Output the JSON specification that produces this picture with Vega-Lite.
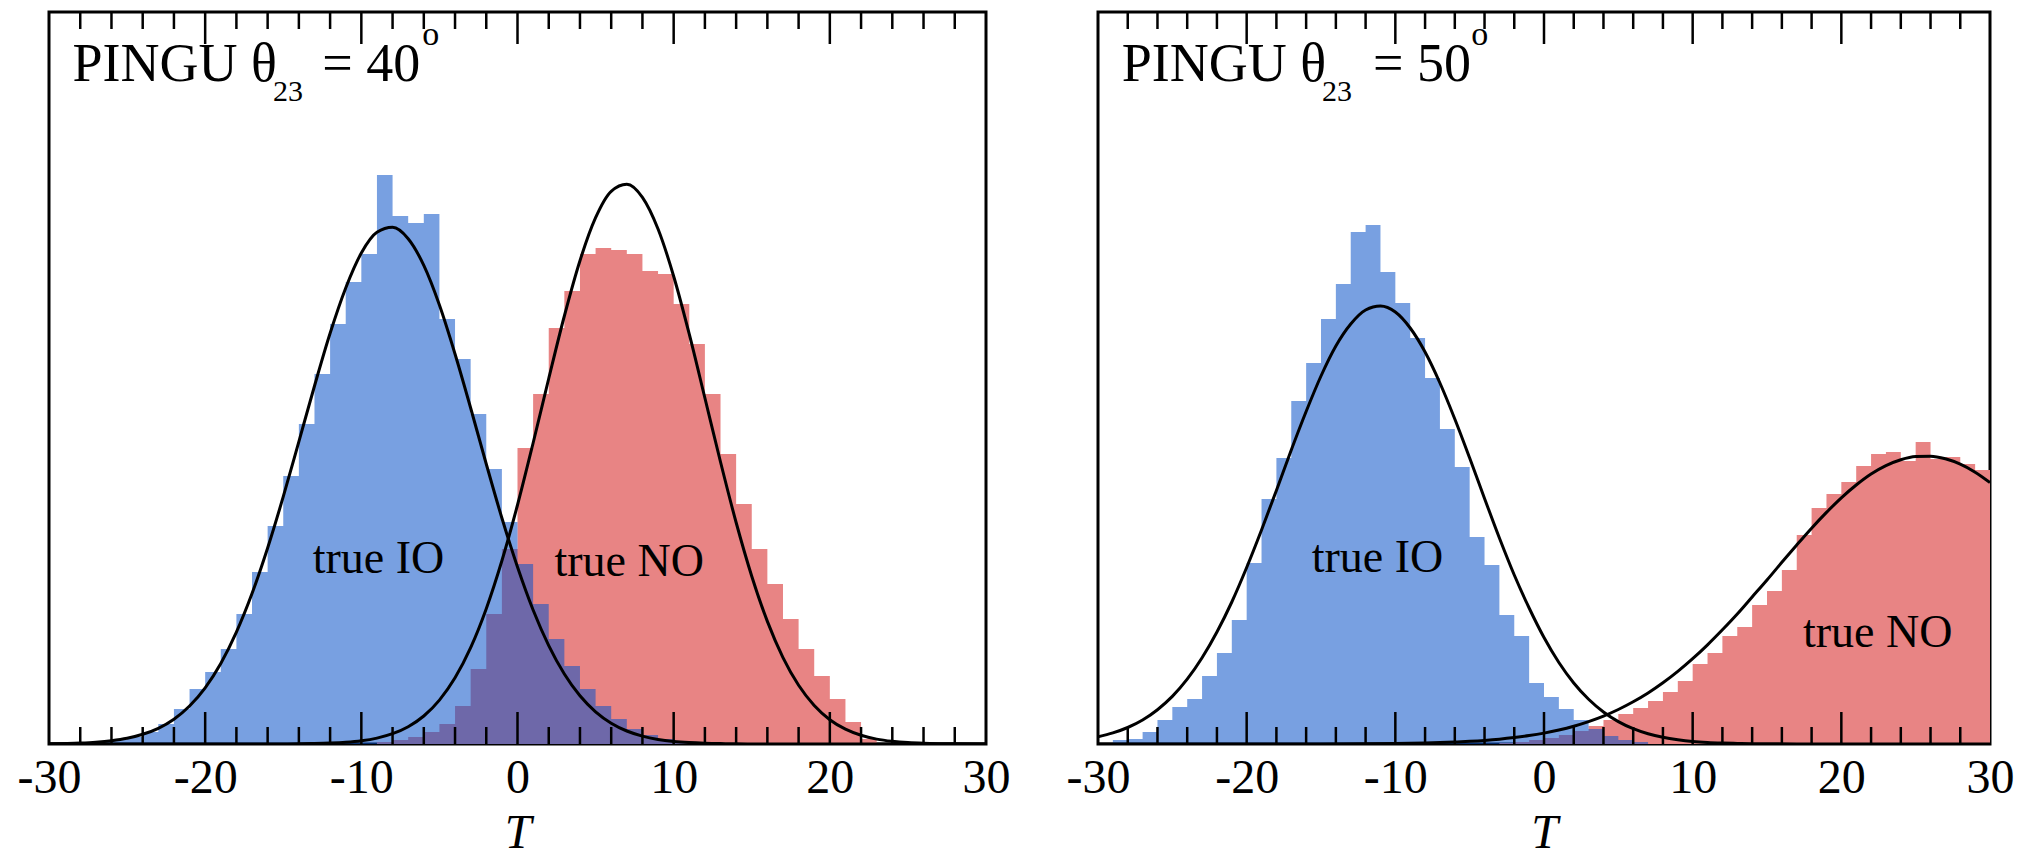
{
  "$schema": "https://vega.github.io/schema/vega-lite/v6.json",
  "background": "white",
  "padding": {"left": 15, "top": 9, "right": 5, "bottom": 0},
  "bounds": "flush",
  "spacing": 112,
  "config": {"view": {"stroke": "black", "strokeWidth": 3}, "font": "Liberation Serif"},
  "datasets": {
    "ticks": [
      {"t":-20,"y0":0,"y1":32},{"t":-10,"y0":0,"y1":32},{"t":0,"y0":0,"y1":32},{"t":10,"y0":0,"y1":32},{"t":20,"y0":0,"y1":32},
      {"t":-20,"y0":700,"y1":732},{"t":-10,"y0":700,"y1":732},{"t":0,"y0":700,"y1":732},{"t":10,"y0":700,"y1":732},{"t":20,"y0":700,"y1":732},
      {"t":-28,"y0":0,"y1":17},{"t":-26,"y0":0,"y1":17},{"t":-24,"y0":0,"y1":17},{"t":-22,"y0":0,"y1":17},{"t":-18,"y0":0,"y1":17},{"t":-16,"y0":0,"y1":17},{"t":-14,"y0":0,"y1":17},{"t":-12,"y0":0,"y1":17},{"t":-8,"y0":0,"y1":17},{"t":-6,"y0":0,"y1":17},{"t":-4,"y0":0,"y1":17},{"t":-2,"y0":0,"y1":17},{"t":2,"y0":0,"y1":17},{"t":4,"y0":0,"y1":17},{"t":6,"y0":0,"y1":17},{"t":8,"y0":0,"y1":17},{"t":12,"y0":0,"y1":17},{"t":14,"y0":0,"y1":17},{"t":16,"y0":0,"y1":17},{"t":18,"y0":0,"y1":17},{"t":22,"y0":0,"y1":17},{"t":24,"y0":0,"y1":17},{"t":26,"y0":0,"y1":17},{"t":28,"y0":0,"y1":17},
      {"t":-28,"y0":715,"y1":732},{"t":-26,"y0":715,"y1":732},{"t":-24,"y0":715,"y1":732},{"t":-22,"y0":715,"y1":732},{"t":-18,"y0":715,"y1":732},{"t":-16,"y0":715,"y1":732},{"t":-14,"y0":715,"y1":732},{"t":-12,"y0":715,"y1":732},{"t":-8,"y0":715,"y1":732},{"t":-6,"y0":715,"y1":732},{"t":-4,"y0":715,"y1":732},{"t":-2,"y0":715,"y1":732},{"t":2,"y0":715,"y1":732},{"t":4,"y0":715,"y1":732},{"t":6,"y0":715,"y1":732},{"t":8,"y0":715,"y1":732},{"t":12,"y0":715,"y1":732},{"t":14,"y0":715,"y1":732},{"t":16,"y0":715,"y1":732},{"t":18,"y0":715,"y1":732},{"t":22,"y0":715,"y1":732},{"t":24,"y0":715,"y1":732},{"t":26,"y0":715,"y1":732},{"t":28,"y0":715,"y1":732}
    ],
    "hist": [
      {"p":"40","s":"IO","t":-27,"h":2},{"p":"40","s":"IO","t":-26,"h":4},{"p":"40","s":"IO","t":-25,"h":7},{"p":"40","s":"IO","t":-24,"h":12},{"p":"40","s":"IO","t":-23,"h":20},{"p":"40","s":"IO","t":-22,"h":35},{"p":"40","s":"IO","t":-21,"h":55},{"p":"40","s":"IO","t":-20,"h":72},{"p":"40","s":"IO","t":-19,"h":95},{"p":"40","s":"IO","t":-18,"h":130},{"p":"40","s":"IO","t":-17,"h":172},{"p":"40","s":"IO","t":-16,"h":218},{"p":"40","s":"IO","t":-15,"h":268},{"p":"40","s":"IO","t":-14,"h":320},{"p":"40","s":"IO","t":-13,"h":370},{"p":"40","s":"IO","t":-12,"h":420},{"p":"40","s":"IO","t":-11,"h":462},{"p":"40","s":"IO","t":-10,"h":490},{"p":"40","s":"IO","t":-9,"h":569},{"p":"40","s":"IO","t":-8,"h":528},{"p":"40","s":"IO","t":-7,"h":521},{"p":"40","s":"IO","t":-6,"h":530},{"p":"40","s":"IO","t":-5,"h":425},{"p":"40","s":"IO","t":-4,"h":385},{"p":"40","s":"IO","t":-3,"h":330},{"p":"40","s":"IO","t":-2,"h":275},{"p":"40","s":"IO","t":-1,"h":222},{"p":"40","s":"IO","t":0,"h":180},{"p":"40","s":"IO","t":1,"h":140},{"p":"40","s":"IO","t":2,"h":105},{"p":"40","s":"IO","t":3,"h":78},{"p":"40","s":"IO","t":4,"h":55},{"p":"40","s":"IO","t":5,"h":38},{"p":"40","s":"IO","t":6,"h":25},{"p":"40","s":"IO","t":7,"h":15},{"p":"40","s":"IO","t":8,"h":9},{"p":"40","s":"IO","t":9,"h":5},{"p":"40","s":"IO","t":10,"h":2},{"p":"40","s":"IO","t":11,"h":0},
      {"p":"40","s":"NO","t":-9,"h":2},{"p":"40","s":"NO","t":-8,"h":4},{"p":"40","s":"NO","t":-7,"h":7},{"p":"40","s":"NO","t":-6,"h":12},{"p":"40","s":"NO","t":-5,"h":20},{"p":"40","s":"NO","t":-4,"h":38},{"p":"40","s":"NO","t":-3,"h":75},{"p":"40","s":"NO","t":-2,"h":130},{"p":"40","s":"NO","t":-1,"h":195},{"p":"40","s":"NO","t":0,"h":296},{"p":"40","s":"NO","t":1,"h":350},{"p":"40","s":"NO","t":2,"h":416},{"p":"40","s":"NO","t":3,"h":453},{"p":"40","s":"NO","t":4,"h":490},{"p":"40","s":"NO","t":5,"h":496},{"p":"40","s":"NO","t":6,"h":494},{"p":"40","s":"NO","t":7,"h":490},{"p":"40","s":"NO","t":8,"h":473},{"p":"40","s":"NO","t":9,"h":470},{"p":"40","s":"NO","t":10,"h":440},{"p":"40","s":"NO","t":11,"h":400},{"p":"40","s":"NO","t":12,"h":350},{"p":"40","s":"NO","t":13,"h":290},{"p":"40","s":"NO","t":14,"h":240},{"p":"40","s":"NO","t":15,"h":195},{"p":"40","s":"NO","t":16,"h":160},{"p":"40","s":"NO","t":17,"h":125},{"p":"40","s":"NO","t":18,"h":95},{"p":"40","s":"NO","t":19,"h":68},{"p":"40","s":"NO","t":20,"h":45},{"p":"40","s":"NO","t":21,"h":22},{"p":"40","s":"NO","t":22,"h":5},{"p":"40","s":"NO","t":23,"h":0},
      {"p":"50","s":"IO","t":-29,"h":4},{"p":"50","s":"IO","t":-28,"h":5},{"p":"50","s":"IO","t":-27,"h":12},{"p":"50","s":"IO","t":-26,"h":24},{"p":"50","s":"IO","t":-25,"h":37},{"p":"50","s":"IO","t":-24,"h":45},{"p":"50","s":"IO","t":-23,"h":68},{"p":"50","s":"IO","t":-22,"h":91},{"p":"50","s":"IO","t":-21,"h":124},{"p":"50","s":"IO","t":-20,"h":181},{"p":"50","s":"IO","t":-19,"h":245},{"p":"50","s":"IO","t":-18,"h":286},{"p":"50","s":"IO","t":-17,"h":343},{"p":"50","s":"IO","t":-16,"h":381},{"p":"50","s":"IO","t":-15,"h":425},{"p":"50","s":"IO","t":-14,"h":460},{"p":"50","s":"IO","t":-13,"h":512},{"p":"50","s":"IO","t":-12,"h":519},{"p":"50","s":"IO","t":-11,"h":472},{"p":"50","s":"IO","t":-10,"h":441},{"p":"50","s":"IO","t":-9,"h":406},{"p":"50","s":"IO","t":-8,"h":366},{"p":"50","s":"IO","t":-7,"h":315},{"p":"50","s":"IO","t":-6,"h":277},{"p":"50","s":"IO","t":-5,"h":207},{"p":"50","s":"IO","t":-4,"h":179},{"p":"50","s":"IO","t":-3,"h":129},{"p":"50","s":"IO","t":-2,"h":108},{"p":"50","s":"IO","t":-1,"h":61},{"p":"50","s":"IO","t":0,"h":47},{"p":"50","s":"IO","t":1,"h":35},{"p":"50","s":"IO","t":2,"h":24},{"p":"50","s":"IO","t":3,"h":15},{"p":"50","s":"IO","t":4,"h":8},{"p":"50","s":"IO","t":5,"h":4},{"p":"50","s":"IO","t":6,"h":2},{"p":"50","s":"IO","t":7,"h":0},
      {"p":"50","s":"NO","t":-3,"h":1},{"p":"50","s":"NO","t":-2,"h":2},{"p":"50","s":"NO","t":-1,"h":4},{"p":"50","s":"NO","t":0,"h":6},{"p":"50","s":"NO","t":1,"h":9},{"p":"50","s":"NO","t":2,"h":13},{"p":"50","s":"NO","t":3,"h":18},{"p":"50","s":"NO","t":4,"h":24},{"p":"50","s":"NO","t":5,"h":30},{"p":"50","s":"NO","t":6,"h":36},{"p":"50","s":"NO","t":7,"h":43},{"p":"50","s":"NO","t":8,"h":52},{"p":"50","s":"NO","t":9,"h":63},{"p":"50","s":"NO","t":10,"h":80},{"p":"50","s":"NO","t":11,"h":91},{"p":"50","s":"NO","t":12,"h":108},{"p":"50","s":"NO","t":13,"h":117},{"p":"50","s":"NO","t":14,"h":139},{"p":"50","s":"NO","t":15,"h":153},{"p":"50","s":"NO","t":16,"h":174},{"p":"50","s":"NO","t":17,"h":209},{"p":"50","s":"NO","t":18,"h":236},{"p":"50","s":"NO","t":19,"h":250},{"p":"50","s":"NO","t":20,"h":262},{"p":"50","s":"NO","t":21,"h":278},{"p":"50","s":"NO","t":22,"h":290},{"p":"50","s":"NO","t":23,"h":292},{"p":"50","s":"NO","t":24,"h":283},{"p":"50","s":"NO","t":25,"h":302},{"p":"50","s":"NO","t":26,"h":285},{"p":"50","s":"NO","t":27,"h":287},{"p":"50","s":"NO","t":28,"h":280},{"p":"50","s":"NO","t":29,"h":274},{"p":"50","s":"NO","t":30,"h":274}
    ],
    "curve": [
      {"p":"40","s":"IO","t":-30,"h":0.26},{"p":"40","s":"IO","t":-28,"h":1.0},{"p":"40","s":"IO","t":-27,"h":1.85},{"p":"40","s":"IO","t":-26,"h":3.3},{"p":"40","s":"IO","t":-25,"h":5.7},{"p":"40","s":"IO","t":-24,"h":9.7},{"p":"40","s":"IO","t":-23,"h":15.7},{"p":"40","s":"IO","t":-22,"h":24.8},{"p":"40","s":"IO","t":-21,"h":38},{"p":"40","s":"IO","t":-20,"h":56.2},{"p":"40","s":"IO","t":-19,"h":80.5},{"p":"40","s":"IO","t":-18,"h":111.8},{"p":"40","s":"IO","t":-17,"h":150.4},{"p":"40","s":"IO","t":-16,"h":196},{"p":"40","s":"IO","t":-15,"h":247.3},{"p":"40","s":"IO","t":-14,"h":302.4},{"p":"40","s":"IO","t":-13,"h":358},{"p":"40","s":"IO","t":-12,"h":410.7},{"p":"40","s":"IO","t":-11,"h":456},{"p":"40","s":"IO","t":-10,"h":491},{"p":"40","s":"IO","t":-9,"h":511.7},{"p":"40","s":"IO","t":-8,"h":516.7},{"p":"40","s":"IO","t":-7,"h":505.3},{"p":"40","s":"IO","t":-6,"h":478.6},{"p":"40","s":"IO","t":-5,"h":439},{"p":"40","s":"IO","t":-4,"h":390},{"p":"40","s":"IO","t":-3,"h":336},{"p":"40","s":"IO","t":-2,"h":280},{"p":"40","s":"IO","t":-1,"h":226},{"p":"40","s":"IO","t":0,"h":177},{"p":"40","s":"IO","t":1,"h":134},{"p":"40","s":"IO","t":2,"h":98.4},{"p":"40","s":"IO","t":3,"h":70},{"p":"40","s":"IO","t":4,"h":48.2},{"p":"40","s":"IO","t":5,"h":32.2},{"p":"40","s":"IO","t":6,"h":20.8},{"p":"40","s":"IO","t":7,"h":13},{"p":"40","s":"IO","t":8,"h":7.9},{"p":"40","s":"IO","t":9,"h":4.6},{"p":"40","s":"IO","t":10,"h":2.6},{"p":"40","s":"IO","t":11,"h":1.45},{"p":"40","s":"IO","t":12,"h":0.77},{"p":"40","s":"IO","t":13,"h":0.4},{"p":"40","s":"IO","t":14,"h":0.2},{"p":"40","s":"IO","t":16,"h":0.05},{"p":"40","s":"IO","t":20,"h":0},{"p":"40","s":"IO","t":30,"h":0},
      {"p":"40","s":"NO","t":-30,"h":0},{"p":"40","s":"NO","t":-20,"h":0},{"p":"40","s":"NO","t":-16,"h":0.05},{"p":"40","s":"NO","t":-14,"h":0.2},{"p":"40","s":"NO","t":-13,"h":0.45},{"p":"40","s":"NO","t":-12,"h":0.9},{"p":"40","s":"NO","t":-11,"h":1.7},{"p":"40","s":"NO","t":-10,"h":3.2},{"p":"40","s":"NO","t":-9,"h":5.9},{"p":"40","s":"NO","t":-8,"h":10.3},{"p":"40","s":"NO","t":-7,"h":17.3},{"p":"40","s":"NO","t":-6,"h":28},{"p":"40","s":"NO","t":-5,"h":43.9},{"p":"40","s":"NO","t":-4,"h":66.2},{"p":"40","s":"NO","t":-3,"h":96.3},{"p":"40","s":"NO","t":-2,"h":135.3},{"p":"40","s":"NO","t":-1,"h":183.2},{"p":"40","s":"NO","t":0,"h":239},{"p":"40","s":"NO","t":1,"h":301},{"p":"40","s":"NO","t":2,"h":365.5},{"p":"40","s":"NO","t":3,"h":428},{"p":"40","s":"NO","t":4,"h":483.3},{"p":"40","s":"NO","t":5,"h":526.3},{"p":"40","s":"NO","t":6,"h":552.7},{"p":"40","s":"NO","t":7,"h":559.8},{"p":"40","s":"NO","t":8,"h":546.7},{"p":"40","s":"NO","t":9,"h":515},{"p":"40","s":"NO","t":10,"h":467.8},{"p":"40","s":"NO","t":11,"h":409.8},{"p":"40","s":"NO","t":12,"h":346},{"p":"40","s":"NO","t":13,"h":282},{"p":"40","s":"NO","t":14,"h":221.5},{"p":"40","s":"NO","t":15,"h":167.8},{"p":"40","s":"NO","t":16,"h":122.6},{"p":"40","s":"NO","t":17,"h":86.4},{"p":"40","s":"NO","t":18,"h":58.7},{"p":"40","s":"NO","t":19,"h":38.5},{"p":"40","s":"NO","t":20,"h":24.3},{"p":"40","s":"NO","t":21,"h":14.8},{"p":"40","s":"NO","t":22,"h":8.7},{"p":"40","s":"NO","t":23,"h":4.9},{"p":"40","s":"NO","t":24,"h":2.7},{"p":"40","s":"NO","t":25,"h":1.4},{"p":"40","s":"NO","t":26,"h":0.7},{"p":"40","s":"NO","t":27,"h":0.35},{"p":"40","s":"NO","t":28,"h":0.17},{"p":"40","s":"NO","t":30,"h":0.03},
      {"p":"50","s":"IO","t":-30,"h":7.3},{"p":"50","s":"IO","t":-29,"h":11.1},{"p":"50","s":"IO","t":-28,"h":16.5},{"p":"50","s":"IO","t":-27,"h":24},{"p":"50","s":"IO","t":-26,"h":34.3},{"p":"50","s":"IO","t":-25,"h":47.6},{"p":"50","s":"IO","t":-24,"h":64.8},{"p":"50","s":"IO","t":-23,"h":86.2},{"p":"50","s":"IO","t":-22,"h":112},{"p":"50","s":"IO","t":-21,"h":142},{"p":"50","s":"IO","t":-20,"h":176.5},{"p":"50","s":"IO","t":-19,"h":214},{"p":"50","s":"IO","t":-18,"h":253.6},{"p":"50","s":"IO","t":-17,"h":294},{"p":"50","s":"IO","t":-16,"h":332.5},{"p":"50","s":"IO","t":-15,"h":368},{"p":"50","s":"IO","t":-14,"h":398},{"p":"50","s":"IO","t":-13,"h":420},{"p":"50","s":"IO","t":-12,"h":434},{"p":"50","s":"IO","t":-11,"h":438},{"p":"50","s":"IO","t":-10,"h":432},{"p":"50","s":"IO","t":-9,"h":416},{"p":"50","s":"IO","t":-8,"h":392},{"p":"50","s":"IO","t":-7,"h":361},{"p":"50","s":"IO","t":-6,"h":325},{"p":"50","s":"IO","t":-5,"h":286},{"p":"50","s":"IO","t":-4,"h":245.6},{"p":"50","s":"IO","t":-3,"h":206},{"p":"50","s":"IO","t":-2,"h":169},{"p":"50","s":"IO","t":-1,"h":136},{"p":"50","s":"IO","t":0,"h":106.5},{"p":"50","s":"IO","t":1,"h":81.5},{"p":"50","s":"IO","t":2,"h":61},{"p":"50","s":"IO","t":3,"h":44.7},{"p":"50","s":"IO","t":4,"h":32},{"p":"50","s":"IO","t":5,"h":22.4},{"p":"50","s":"IO","t":6,"h":15.3},{"p":"50","s":"IO","t":7,"h":10.2},{"p":"50","s":"IO","t":8,"h":6.7},{"p":"50","s":"IO","t":9,"h":4.3},{"p":"50","s":"IO","t":10,"h":2.6},{"p":"50","s":"IO","t":11,"h":1.6},{"p":"50","s":"IO","t":12,"h":1.0},{"p":"50","s":"IO","t":13,"h":0.6},{"p":"50","s":"IO","t":14,"h":0.35},{"p":"50","s":"IO","t":15,"h":0.2},{"p":"50","s":"IO","t":17,"h":0.06},{"p":"50","s":"IO","t":20,"h":0},{"p":"50","s":"IO","t":30,"h":0},
      {"p":"50","s":"NO","t":-30,"h":0},{"p":"50","s":"NO","t":-15,"h":0.1},{"p":"50","s":"NO","t":-10,"h":0.5},{"p":"50","s":"NO","t":-8,"h":1.0},{"p":"50","s":"NO","t":-6,"h":2.0},{"p":"50","s":"NO","t":-5,"h":2.7},{"p":"50","s":"NO","t":-4,"h":3.6},{"p":"50","s":"NO","t":-3,"h":4.8},{"p":"50","s":"NO","t":-2,"h":6.4},{"p":"50","s":"NO","t":-1,"h":8.4},{"p":"50","s":"NO","t":0,"h":10.9},{"p":"50","s":"NO","t":1,"h":14},{"p":"50","s":"NO","t":2,"h":17.8},{"p":"50","s":"NO","t":3,"h":22.4},{"p":"50","s":"NO","t":4,"h":27.9},{"p":"50","s":"NO","t":5,"h":34.5},{"p":"50","s":"NO","t":6,"h":42.2},{"p":"50","s":"NO","t":7,"h":51},{"p":"50","s":"NO","t":8,"h":61.2},{"p":"50","s":"NO","t":9,"h":72.6},{"p":"50","s":"NO","t":10,"h":85.3},{"p":"50","s":"NO","t":11,"h":99.2},{"p":"50","s":"NO","t":12,"h":114.2},{"p":"50","s":"NO","t":13,"h":130},{"p":"50","s":"NO","t":14,"h":147},{"p":"50","s":"NO","t":15,"h":164},{"p":"50","s":"NO","t":16,"h":181.7},{"p":"50","s":"NO","t":17,"h":199},{"p":"50","s":"NO","t":18,"h":215.8},{"p":"50","s":"NO","t":19,"h":231.6},{"p":"50","s":"NO","t":20,"h":246.2},{"p":"50","s":"NO","t":21,"h":259},{"p":"50","s":"NO","t":22,"h":270},{"p":"50","s":"NO","t":23,"h":278.4},{"p":"50","s":"NO","t":24,"h":284.3},{"p":"50","s":"NO","t":25,"h":287.5},{"p":"50","s":"NO","t":26,"h":287.8},{"p":"50","s":"NO","t":27,"h":285.2},{"p":"50","s":"NO","t":28,"h":279.8},{"p":"50","s":"NO","t":29,"h":271.8},{"p":"50","s":"NO","t":30,"h":261.4}
    ],
    "labels": [
      {"p":"40","k":"main","t":-28.5,"h":663,"label":"PINGU θ"},
      {"p":"40","k":"sub","t":-15.66,"h":643,"label":"23"},
      {"p":"40","k":"main","t":-12.5,"h":663,"label":"= 40"},
      {"p":"40","k":"sup","t":-6.1,"h":699,"label":"o"},
      {"p":"40","k":"curve","t":-8.9,"h":171,"label":"true IO"},
      {"p":"40","k":"curve","t":7.15,"h":168,"label":"true NO"},
      {"p":"50","k":"main","t":-28.4,"h":663,"label":"PINGU θ"},
      {"p":"50","k":"sub","t":-14.94,"h":643,"label":"23"},
      {"p":"50","k":"main","t":-11.5,"h":663,"label":"= 50"},
      {"p":"50","k":"sup","t":-4.9,"h":699,"label":"o"},
      {"p":"50","k":"curve","t":-11.2,"h":172,"label":"true IO"},
      {"p":"50","k":"curve","t":22.45,"h":97,"label":"true NO"}
    ]
  },
  "hconcat": [
    {
      "width": 937, "height": 732,
      "layer": [
        {
          "data": {"name": "hist"},
          "transform": [{"filter": "datum.p === '40' && datum.s === 'NO'"}],
          "mark": {"type": "area", "interpolate": "step-after", "color": "#E88484", "clip": true},
          "encoding": {
            "x": {"field": "t", "type": "quantitative", "scale": {"domain": [-30, 30], "nice": false, "zero": false},
              "axis": {"orient": "bottom", "values": [-30, -20, -10, 0, 10, 20, 30], "ticks": false, "domain": false, "grid": false, "labelExpr": "'' + datum.value", "labelFont": "Liberation Serif", "labelFontSize": 48, "labelColor": "black", "labelPadding": 10, "labelOverlap": false, "labelFlush": false, "labelBound": false, "title": "T", "titleFont": "Liberation Serif", "titleFontStyle": "italic", "titleFontWeight": "normal", "titleFontSize": 48, "titleColor": "black", "titlePadding": 7}},
            "y": {"field": "h", "type": "quantitative", "scale": {"domain": [0, 732], "nice": false}, "axis": null}
          }
        },
        {
          "data": {"name": "hist"},
          "transform": [{"filter": "datum.p === '40' && datum.s === 'IO'"}],
          "mark": {"type": "area", "interpolate": "step-after", "color": "#0A52C8", "opacity": 0.55, "clip": true},
          "encoding": {
            "x": {"field": "t", "type": "quantitative"},
            "y": {"field": "h", "type": "quantitative"}
          }
        },
        {
          "data": {"name": "curve"},
          "transform": [{"filter": "datum.p === '40'"}],
          "mark": {"type": "line", "interpolate": "monotone", "color": "black", "strokeWidth": 3, "clip": true},
          "encoding": {
            "x": {"field": "t", "type": "quantitative"},
            "y": {"field": "h", "type": "quantitative"},
            "detail": {"field": "s"}
          }
        },
        {
          "data": {"name": "ticks"},
          "mark": {"type": "rule", "color": "black", "strokeWidth": 2.5},
          "encoding": {
            "x": {"field": "t", "type": "quantitative"},
            "y": {"field": "y0", "type": "quantitative"},
            "y2": {"field": "y1"}
          }
        },
        {
          "data": {"name": "labels"},
          "transform": [{"filter": "datum.p === '40' && datum.k === 'curve'"}],
          "mark": {"type": "text", "font": "Liberation Serif", "fontSize": 46, "align": "center", "baseline": "alphabetic", "color": "black"},
          "encoding": {
            "x": {"field": "t", "type": "quantitative"},
            "y": {"field": "h", "type": "quantitative"},
            "text": {"field": "label"}
          }
        },
        {
          "data": {"name": "labels"},
          "transform": [{"filter": "datum.p === '40' && datum.k === 'main'"}],
          "mark": {"type": "text", "font": "Liberation Serif", "fontSize": 54, "align": "left", "baseline": "alphabetic", "color": "black"},
          "encoding": {
            "x": {"field": "t", "type": "quantitative"},
            "y": {"field": "h", "type": "quantitative"},
            "text": {"field": "label"}
          }
        },
        {
          "data": {"name": "labels"},
          "transform": [{"filter": "datum.p === '40' && datum.k === 'sub'"}],
          "mark": {"type": "text", "font": "Liberation Serif", "fontSize": 30, "align": "left", "baseline": "alphabetic", "color": "black"},
          "encoding": {
            "x": {"field": "t", "type": "quantitative"},
            "y": {"field": "h", "type": "quantitative"},
            "text": {"field": "label"}
          }
        },
        {
          "data": {"name": "labels"},
          "transform": [{"filter": "datum.p === '40' && datum.k === 'sup'"}],
          "mark": {"type": "text", "font": "Liberation Serif", "fontSize": 34, "align": "left", "baseline": "alphabetic", "color": "black"},
          "encoding": {
            "x": {"field": "t", "type": "quantitative"},
            "y": {"field": "h", "type": "quantitative"},
            "text": {"field": "label"}
          }
        }
      ]
    },
    {
      "width": 892, "height": 732,
      "layer": [
        {
          "data": {"name": "hist"},
          "transform": [{"filter": "datum.p === '50' && datum.s === 'NO'"}],
          "mark": {"type": "area", "interpolate": "step-after", "color": "#E88484", "clip": true},
          "encoding": {
            "x": {"field": "t", "type": "quantitative", "scale": {"domain": [-30, 30], "nice": false, "zero": false},
              "axis": {"orient": "bottom", "values": [-30, -20, -10, 0, 10, 20, 30], "ticks": false, "domain": false, "grid": false, "labelExpr": "'' + datum.value", "labelFont": "Liberation Serif", "labelFontSize": 48, "labelColor": "black", "labelPadding": 10, "labelOverlap": false, "labelFlush": false, "labelBound": false, "title": "T", "titleFont": "Liberation Serif", "titleFontStyle": "italic", "titleFontWeight": "normal", "titleFontSize": 48, "titleColor": "black", "titlePadding": 7}},
            "y": {"field": "h", "type": "quantitative", "scale": {"domain": [0, 732], "nice": false}, "axis": null}
          }
        },
        {
          "data": {"name": "hist"},
          "transform": [{"filter": "datum.p === '50' && datum.s === 'IO'"}],
          "mark": {"type": "area", "interpolate": "step-after", "color": "#0A52C8", "opacity": 0.55, "clip": true},
          "encoding": {
            "x": {"field": "t", "type": "quantitative"},
            "y": {"field": "h", "type": "quantitative"}
          }
        },
        {
          "data": {"name": "curve"},
          "transform": [{"filter": "datum.p === '50'"}],
          "mark": {"type": "line", "interpolate": "monotone", "color": "black", "strokeWidth": 3, "clip": true},
          "encoding": {
            "x": {"field": "t", "type": "quantitative"},
            "y": {"field": "h", "type": "quantitative"},
            "detail": {"field": "s"}
          }
        },
        {
          "data": {"name": "ticks"},
          "mark": {"type": "rule", "color": "black", "strokeWidth": 2.5},
          "encoding": {
            "x": {"field": "t", "type": "quantitative"},
            "y": {"field": "y0", "type": "quantitative"},
            "y2": {"field": "y1"}
          }
        },
        {
          "data": {"name": "labels"},
          "transform": [{"filter": "datum.p === '50' && datum.k === 'curve'"}],
          "mark": {"type": "text", "font": "Liberation Serif", "fontSize": 46, "align": "center", "baseline": "alphabetic", "color": "black"},
          "encoding": {
            "x": {"field": "t", "type": "quantitative"},
            "y": {"field": "h", "type": "quantitative"},
            "text": {"field": "label"}
          }
        },
        {
          "data": {"name": "labels"},
          "transform": [{"filter": "datum.p === '50' && datum.k === 'main'"}],
          "mark": {"type": "text", "font": "Liberation Serif", "fontSize": 54, "align": "left", "baseline": "alphabetic", "color": "black"},
          "encoding": {
            "x": {"field": "t", "type": "quantitative"},
            "y": {"field": "h", "type": "quantitative"},
            "text": {"field": "label"}
          }
        },
        {
          "data": {"name": "labels"},
          "transform": [{"filter": "datum.p === '50' && datum.k === 'sub'"}],
          "mark": {"type": "text", "font": "Liberation Serif", "fontSize": 30, "align": "left", "baseline": "alphabetic", "color": "black"},
          "encoding": {
            "x": {"field": "t", "type": "quantitative"},
            "y": {"field": "h", "type": "quantitative"},
            "text": {"field": "label"}
          }
        },
        {
          "data": {"name": "labels"},
          "transform": [{"filter": "datum.p === '50' && datum.k === 'sup'"}],
          "mark": {"type": "text", "font": "Liberation Serif", "fontSize": 34, "align": "left", "baseline": "alphabetic", "color": "black"},
          "encoding": {
            "x": {"field": "t", "type": "quantitative"},
            "y": {"field": "h", "type": "quantitative"},
            "text": {"field": "label"}
          }
        }
      ]
    }
  ]
}
